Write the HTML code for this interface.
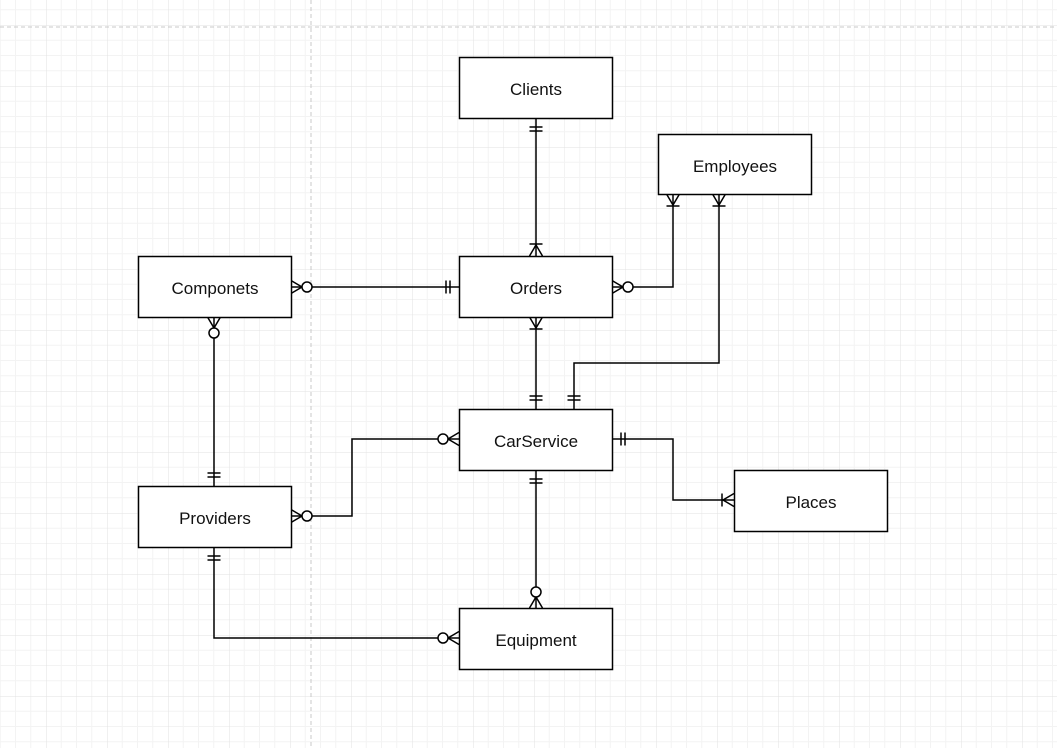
<!DOCTYPE html>
<html><head><meta charset="utf-8"><style>
html,body{margin:0;padding:0;background:#fff}
svg{display:block}
text{font-family:"Liberation Sans",Arial,sans-serif;font-size:17px;fill:#111}
</style></head><body>
<svg width="1057" height="748" xmlns="http://www.w3.org/2000/svg">
<defs>
<pattern id="g" patternUnits="userSpaceOnUse" x="290" y="86" width="61" height="61">
<path d="M15.25 0V61M30.5 0V61M45.75 0V61M0 15.25H61M0 30.5H61M0 45.75H61" stroke="#f3f3f3" stroke-width="1" fill="none"/>
<path d="M0 0V61M0 0H61" stroke="#e2e2e2" stroke-width="1" fill="none"/>
</pattern>
<marker id="zm" markerUnits="userSpaceOnUse" orient="auto-start-reverse" refX="0" refY="0" markerWidth="1" markerHeight="1" overflow="visible">
<path d="M0 -6.5L-11 0L0 6.5" fill="none" stroke="#000" stroke-width="1.5"/>
<circle cx="-16" cy="0" r="5" fill="#fff" stroke="#000" stroke-width="1.5"/>
</marker>
<marker id="om" markerUnits="userSpaceOnUse" orient="auto-start-reverse" refX="0" refY="0" markerWidth="1" markerHeight="1" overflow="visible">
<path d="M0 -6.5L-11 0L0 6.5M-12 -6.5V6.5" fill="none" stroke="#000" stroke-width="1.5"/>
</marker>
<marker id="oo" markerUnits="userSpaceOnUse" orient="auto-start-reverse" refX="0" refY="0" markerWidth="1" markerHeight="1" overflow="visible">
<path d="M-9 -6.5V6.5M-13 -6.5V6.5" fill="none" stroke="#000" stroke-width="1.5"/>
</marker>
</defs>
<rect width="1057" height="748" fill="url(#g)"/>
<path d="M311 0V748M0 27H1057" stroke="#c8c8c8" stroke-width="1" stroke-dasharray="4 3" fill="none"/>
<g fill="none" stroke="#000" stroke-width="1.5">
<path d="M536 118V256" marker-start="url(#oo)" marker-end="url(#om)"/>
<path d="M291 287H459" marker-start="url(#zm)" marker-end="url(#oo)"/>
<path d="M612 287H673V194" marker-start="url(#zm)" marker-end="url(#om)"/>
<path d="M574 409V363H719V194" marker-start="url(#oo)" marker-end="url(#om)"/>
<path d="M536 409V317" marker-start="url(#oo)" marker-end="url(#om)"/>
<path d="M214 486V317" marker-start="url(#oo)" marker-end="url(#zm)"/>
<path d="M291 516H352V439H459" marker-start="url(#zm)" marker-end="url(#zm)"/>
<path d="M612 439H673V500H734" marker-start="url(#oo)" marker-end="url(#om)"/>
<path d="M536 470V608" marker-start="url(#oo)" marker-end="url(#zm)"/>
<path d="M214 547V638H459" marker-start="url(#oo)" marker-end="url(#zm)"/>
</g>
<g fill="#fff" stroke="#000" stroke-width="1.5">
<rect x="459.5" y="57.5" width="153" height="61"/>
<rect x="658.5" y="134.5" width="153" height="60"/>
<rect x="138.5" y="256.5" width="153" height="61"/>
<rect x="459.5" y="256.5" width="153" height="61"/>
<rect x="459.5" y="409.5" width="153" height="61"/>
<rect x="734.5" y="470.5" width="153" height="61"/>
<rect x="138.5" y="486.5" width="153" height="61"/>
<rect x="459.5" y="608.5" width="153" height="61"/>
</g>
<g text-anchor="middle">
<text x="536" y="95">Clients</text>
<text x="735" y="172">Employees</text>
<text x="215" y="294">Componets</text>
<text x="536" y="294">Orders</text>
<text x="536" y="447">CarService</text>
<text x="811" y="508">Places</text>
<text x="215" y="524">Providers</text>
<text x="536" y="646">Equipment</text>
</g>
</svg>
</body></html>
